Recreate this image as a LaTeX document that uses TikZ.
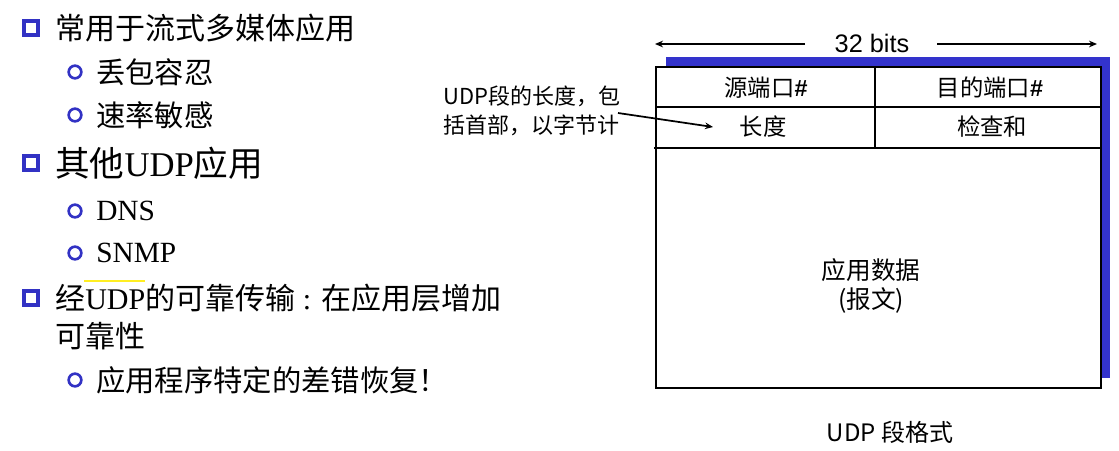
\documentclass[tikz,border=0pt]{standalone}
\usepackage{fontspec}
\setmainfont{Liberation Serif}
\newfontfamily\cjk{Noto Sans CJK SC}
\newfontfamily\lsans{Liberation Sans}
\usetikzlibrary{arrows.meta}
\definecolor{bulletblue}{HTML}{3232C4}
\definecolor{shadowblue}{HTML}{3333CC}
\definecolor{hiyellow}{HTML}{FFEE22}
\tikzset{
  sqbullet/.style={draw=bulletblue, line width=2.4pt, minimum size=10.5pt, inner sep=0pt, rectangle},
  cbullet/.style={draw=bulletblue, line width=2pt, minimum size=9.5pt, inner sep=0pt, circle},
  mainline/.style={anchor=west, inner sep=0pt},
  cell/.style={inner sep=0pt, font=\cjk\fontsize{17.5}{21}\selectfont},
  frame/.style={line width=1.5pt},
  small arrow/.style={-{Stealth[length=6pt,width=5pt]}, line width=1.1pt}
}
\begin{document}
\begin{tikzpicture}[x=0.75pt,y=-0.75pt]
\path[use as bounding box] (0,0) rectangle (1119,450);

% ---- left bullets ----
\node[sqbullet] (bq1) at (31,28) {};
\node[mainline] (t1) at (55,28) {\cjk\fontsize{22.5}{27}\selectfont 常用于流式多媒体应用};
\node[cbullet] (bc1) at (75,72) {};
\node[mainline] (t11) at (96,72) {\cjk\fontsize{22}{26}\selectfont 丢包容忍};
\node[cbullet] (bc2) at (75,115) {};
\node[mainline] (t12) at (96,115) {\cjk\fontsize{22}{26}\selectfont 速率敏感};
\node[sqbullet] (bq2) at (31,163) {};
\node[mainline] (t2) at (55,163) {\fontsize{26}{31}\selectfont{\cjk 其他}UDP{\cjk 应用}};
\node[cbullet] (bc3) at (75,211) {};
\node[mainline] (t21) at (96,211) {\fontsize{22}{26}\selectfont DNS};
\node[cbullet] (bc4) at (75,253) {};
\node[mainline] (t22) at (96,253) {\fontsize{22}{26}\selectfont SNMP};
\node[sqbullet] (bq3) at (31,298) {};
\node[mainline] (t3) at (55,298) {\fontsize{22.5}{27}\selectfont{\cjk 经}UDP{\cjk 的可靠传输} : {\cjk 在应用层增加}};
\node[mainline] (t3b) at (55,336) {\cjk\fontsize{22.5}{27}\selectfont 可靠性};
\draw[hiyellow, line width=0.9pt] (84,281) -- (145,281);
\node[cbullet] (bc5) at (75,380) {};
\node[mainline] (t31) at (96,380) {\cjk\fontsize{22}{26}\selectfont 应用程序特定的差错恢复！};

% ---- UDP segment format ----
\fill[shadowblue] (666,57) rectangle (1110,378);
\draw[frame, fill=white] (656,67) rectangle (1101,388);
\draw[frame] (656,107) -- (1101,107);
\draw[frame] (654,148) -- (1101,148);
\draw[frame] (875,67) -- (875,148);

\node[cell] (src) at (766,88) {源端口{\lsans\bfseries\#}};
\node[cell] (dst) at (990,88) {目的端口{\lsans\bfseries\#}};
\node[cell] (len) at (763,127) {长度};
\node[cell] (chk) at (992,127) {检查和};
\node[cell, align=center, font=\cjk\fontsize{18.5}{22}\selectfont] (data) at (871,286) {应用数据\\(报文)};
\node[cell, font=\cjk\fontsize{18}{22}\selectfont] (cap) at (890,432) {UDP 段格式};

% 32 bits
\node[inner sep=0pt, font=\lsans\fontsize{19}{23}\selectfont] (bits) at (872,43) {32 bits};
\coordinate (bl1) at (805,44);
\coordinate (bl2) at (655,44);
\coordinate (br1) at (937,44);
\coordinate (br2) at (1097,44);
\draw[small arrow] (bl1) -- (bl2);
\draw[small arrow] (br1) -- (br2);

% annotation
\node[anchor=north west, inner sep=0pt, align=left, font=\cjk\fontsize{16.5}{21.75}\selectfont] (note) at (443,86) {UDP段的长度，包\\括首部，以字节计};
\coordinate (as) at (618,113);
\coordinate (ae) at (713,127);
\draw[small arrow, line width=1.3pt] (as) -- (ae);
\end{tikzpicture}
\end{document}
